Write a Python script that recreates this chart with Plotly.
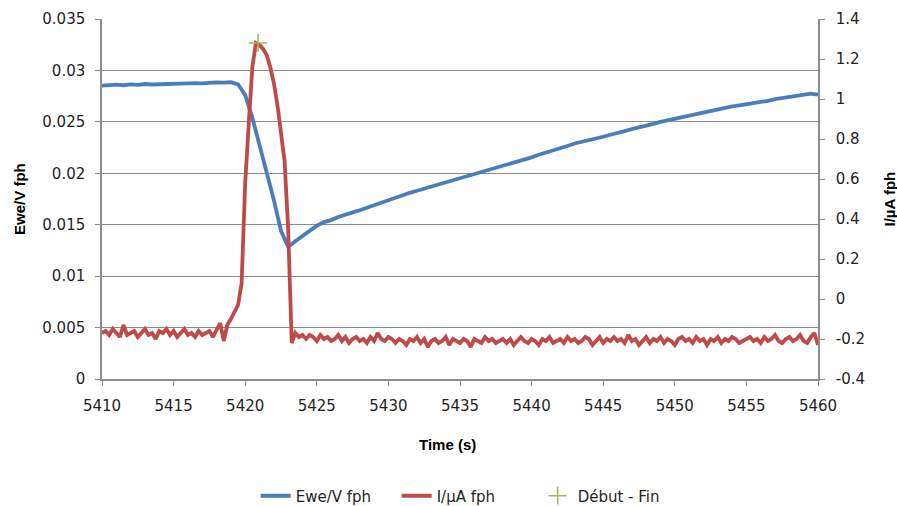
import plotly.graph_objects as go

# ---------------- data ----------------
ewe_v = [
    0.02852, 0.02858, 0.02862, 0.02856, 0.02864, 0.02860, 0.02868, 0.02863, 0.02866, 0.02869,
    0.02865, 0.02872, 0.02870, 0.02876, 0.02874, 0.02880, 0.02884, 0.02882, 0.02885, 0.02865,
    0.02760, 0.02540, 0.02280, 0.02020, 0.01740, 0.01440, 0.01285, 0.01340, 0.01390, 0.01450,
    0.01490, 0.01525, 0.01545, 0.01575, 0.01600, 0.01620, 0.01640, 0.01665, 0.01685, 0.01710,
    0.01740, 0.01760, 0.01785, 0.01810, 0.01830, 0.01850, 0.01870, 0.01895, 0.01910, 0.01930,
    0.01950, 0.01970, 0.01990, 0.02015, 0.02035, 0.02055, 0.02075, 0.02095, 0.02115, 0.02135,
    0.02155, 0.02180, 0.02200, 0.02220, 0.02245, 0.02265, 0.02290, 0.02305, 0.02320, 0.02340,
    0.02355, 0.02375, 0.02390, 0.02410, 0.02430, 0.02445, 0.02465, 0.02480, 0.02500, 0.02515,
    0.02530, 0.02550, 0.02560, 0.02575, 0.02590, 0.02605, 0.02620, 0.02635, 0.02650, 0.02660,
    0.02670, 0.02685, 0.02695, 0.02705, 0.02720, 0.02730, 0.02740, 0.02750, 0.02760, 0.02775,
    0.02765,
]
ewe_t0 = 5410.0
ewe_dt = 0.5

i_pre = [
    -0.17, -0.16, -0.18, -0.15, -0.17, -0.19, -0.13, -0.18, -0.17, -0.16,
    -0.19, -0.17, -0.15, -0.18, -0.17, -0.20, -0.16, -0.17, -0.15, -0.18,
    -0.16, -0.19, -0.17, -0.15, -0.18, -0.17, -0.19, -0.16, -0.18, -0.17,
    -0.16, -0.19, -0.15, -0.12, -0.21, -0.13,
]
i_peak = [
    -0.10, -0.06, -0.03, 0.08, 0.58, 0.88, 1.16, 1.28, 1.27, 1.25,
    1.22, 1.16, 1.08, 0.97, 0.84, 0.69, 0.35,
]
i_post = [
    -0.22, -0.17, -0.19, -0.18, -0.20, -0.18, -0.19, -0.21, -0.18, -0.20,
    -0.19, -0.21, -0.20, -0.18, -0.21, -0.19, -0.22, -0.20, -0.19, -0.21,
    -0.20, -0.22, -0.19, -0.21, -0.17, -0.20, -0.21, -0.19, -0.20, -0.22,
    -0.20, -0.21, -0.23, -0.20, -0.21, -0.19, -0.22, -0.20, -0.24, -0.21,
    -0.20, -0.22, -0.21, -0.19, -0.23, -0.20, -0.21, -0.22, -0.20, -0.21,
    -0.24, -0.20, -0.21, -0.22, -0.19, -0.21, -0.20, -0.22, -0.21, -0.20,
    -0.22, -0.20, -0.23, -0.21, -0.19, -0.21, -0.22, -0.20, -0.21, -0.23,
    -0.20, -0.21, -0.19, -0.22, -0.21, -0.20, -0.22, -0.19, -0.21, -0.20,
    -0.22, -0.21, -0.19, -0.20, -0.23, -0.21, -0.19, -0.22, -0.20, -0.21,
    -0.19, -0.21, -0.20, -0.22, -0.18, -0.21, -0.20, -0.23, -0.21, -0.19,
    -0.22, -0.20, -0.21, -0.19, -0.22, -0.20, -0.21, -0.23, -0.20, -0.19,
    -0.21, -0.20, -0.22, -0.19, -0.21, -0.20, -0.23, -0.20, -0.21, -0.19,
    -0.22, -0.20, -0.21, -0.19, -0.20, -0.22, -0.21, -0.20, -0.19, -0.21,
    -0.20, -0.22, -0.19, -0.21, -0.20, -0.18, -0.21, -0.22, -0.20, -0.19,
    -0.21, -0.20, -0.18, -0.21, -0.22, -0.19, -0.17, -0.23,
]
i_t0 = 5410.0
i_dt = 0.25

debut_fin_t = [5420.9]
debut_fin_i = [1.28]

x_ticks = [5410, 5415, 5420, 5425, 5430, 5435, 5440, 5445, 5450, 5455, 5460]
y1_ticks = [0, 0.005, 0.01, 0.015, 0.02, 0.025, 0.03, 0.035]
y1_labels = ["0", "0.005", "0.01", "0.015", "0.02", "0.025", "0.03", "0.035"]
y2_ticks = [-0.4, -0.2, 0, 0.2, 0.4, 0.6, 0.8, 1.0, 1.2, 1.4]
y2_labels = ["-0.4", "-0.2", "0", "0.2", "0.4", "0.6", "0.8", "1", "1.2", "1.4"]

# ---------------- figure ----------------
i_vals = i_pre + i_peak + i_post
ewe_t = [ewe_t0 + ewe_dt * k for k in range(len(ewe_v))]
i_t = [i_t0 + i_dt * k for k in range(len(i_vals))]

TICKFONT = "DejaVu Sans"
TITLEFONT = "Liberation Sans"
GRID = "#8c8c8c"
AX = "#8c8c8c"
TXT = "#1f1f1f"

fig = go.Figure()
fig.add_trace(go.Scatter(x=ewe_t, y=ewe_v, mode="lines", name="Ewe/V fph",
                         line=dict(color="#4A7EBB", width=3.8)))
fig.add_trace(go.Scatter(x=i_t, y=i_vals, mode="lines", name="I/µA fph", yaxis="y2",
                         line=dict(color="#BE4B48", width=3.8)))
fig.add_trace(go.Scatter(x=debut_fin_t, y=debut_fin_i, mode="markers", name="Début - Fin",
                         yaxis="y2",
                         marker=dict(symbol="cross-thin", size=13, color="#9BBB59",
                                     line=dict(color="#9BBB59", width=1.5))))

tickfont = dict(family=TICKFONT, size=15, color=TXT)
titlefont = dict(family=TITLEFONT, size=15, color="#000")

fig.update_layout(
    width=897, height=506,
    margin=dict(l=102, r=79, t=19, b=127, autoexpand=False),
    paper_bgcolor="white", plot_bgcolor="white",
    font=dict(family=TICKFONT, size=15, color=TXT),
    showlegend=True,
    legend=dict(orientation="h", x=0.51, xanchor="center", y=-0.325, yanchor="middle",
                entrywidth=96, entrywidthmode="pixels",
                font=dict(family=TICKFONT, size=15, color=TXT), traceorder="normal"),
    xaxis=dict(range=[5410, 5460], tickvals=x_ticks, showgrid=False, zeroline=False,
               automargin=False, tickfont=tickfont, ticklabelstandoff=7,
               showline=True, linecolor=AX, linewidth=1.5,
               ticks="outside", ticklen=5, tickcolor=AX),
    yaxis=dict(range=[0, 0.035], tickvals=y1_ticks, ticktext=y1_labels,
               automargin=False, tickfont=tickfont, ticklabelstandoff=7,
               showgrid=True, gridcolor=GRID, gridwidth=1.3, zeroline=False,
               showline=True, linecolor=AX, linewidth=1.5,
               ticks="outside", ticklen=5, tickcolor=AX),
    yaxis2=dict(range=[-0.4, 1.4], tickvals=y2_ticks, ticktext=y2_labels,
                automargin=False, tickfont=tickfont, ticklabelstandoff=8,
                overlaying="y", side="right", showgrid=False, zeroline=False,
                showline=True, linecolor=AX, linewidth=1.5,
                ticks="outside", ticklen=5, tickcolor=AX),
    annotations=[
        dict(text="<b>Time (s)</b>", xref="paper", yref="paper", x=0.482, y=-0.183,
             showarrow=False, xanchor="center", yanchor="middle", font=titlefont),
        dict(text="<b>Ewe/V fph</b>", xref="paper", yref="paper", x=-0.116, y=0.5,
             textangle=-90, showarrow=False, xanchor="center", yanchor="middle",
             font=titlefont),
        dict(text="<b>I/µA fph</b>", xref="paper", yref="paper", x=1.0985, y=0.5,
             textangle=-90, showarrow=False, xanchor="center", yanchor="middle",
             font=titlefont),
    ],
)

fig.write_html("out.html", config={"displayModeBar": False},
               post_script="document.body.style.margin='0';document.body.style.overflow='hidden';")
